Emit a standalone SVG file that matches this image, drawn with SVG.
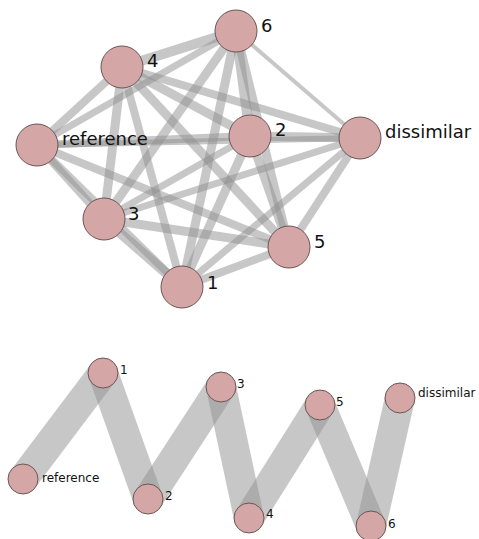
<svg xmlns="http://www.w3.org/2000/svg" width="479" height="539" viewBox="0 0 479 539">
<style>
.e line{stroke:#8f8f8f;stroke-opacity:0.5;stroke-linecap:butt}
.b line{stroke:#939393;stroke-opacity:0.52;stroke-width:30;stroke-linecap:butt}
.n{fill:#d4a6a6;stroke:#6b5555;stroke-width:1}
.t{font-family:"DejaVu Sans",sans-serif;font-size:18px;fill:#111}
.s{font-family:"DejaVu Sans",sans-serif;font-size:12px;fill:#111}
</style>
<rect width="479" height="539" fill="#fff"/>
<g id="edges-top" class="e">
<line x1="37" y1="145" x2="122" y2="67" stroke-width="8"/>
<line x1="37" y1="145" x2="236" y2="31" stroke-width="7"/>
<line x1="37" y1="145" x2="250" y2="136" stroke-width="8"/>
<line x1="37" y1="145" x2="360" y2="138" stroke-width="6"/>
<line x1="37" y1="145" x2="104" y2="219" stroke-width="8"/>
<line x1="37" y1="145" x2="182" y2="287" stroke-width="8"/>
<line x1="37" y1="145" x2="289" y2="247" stroke-width="8"/>
<line x1="122" y1="67" x2="236" y2="31" stroke-width="10"/>
<line x1="122" y1="67" x2="250" y2="136" stroke-width="9"/>
<line x1="122" y1="67" x2="360" y2="138" stroke-width="8"/>
<line x1="122" y1="67" x2="104" y2="219" stroke-width="9"/>
<line x1="122" y1="67" x2="182" y2="287" stroke-width="8"/>
<line x1="122" y1="67" x2="289" y2="247" stroke-width="9"/>
<line x1="236" y1="31" x2="250" y2="136" stroke-width="10"/>
<line x1="236" y1="31" x2="360" y2="138" stroke-width="4"/>
<line x1="236" y1="31" x2="104" y2="219" stroke-width="9"/>
<line x1="236" y1="31" x2="182" y2="287" stroke-width="9"/>
<line x1="236" y1="31" x2="289" y2="247" stroke-width="9"/>
<line x1="250" y1="136" x2="360" y2="138" stroke-width="9"/>
<line x1="250" y1="136" x2="104" y2="219" stroke-width="7"/>
<line x1="250" y1="136" x2="182" y2="287" stroke-width="9"/>
<line x1="250" y1="136" x2="289" y2="247" stroke-width="9"/>
<line x1="360" y1="138" x2="104" y2="219" stroke-width="7"/>
<line x1="360" y1="138" x2="182" y2="287" stroke-width="7"/>
<line x1="360" y1="138" x2="289" y2="247" stroke-width="8"/>
<line x1="104" y1="219" x2="182" y2="287" stroke-width="10"/>
<line x1="104" y1="219" x2="289" y2="247" stroke-width="9"/>
<line x1="182" y1="287" x2="289" y2="247" stroke-width="8"/>
</g>
<g id="t-reference"><circle class="n" cx="37" cy="145" r="21"/><text class="t" x="62" y="145">reference</text></g>
<g id="t-4"><circle class="n" cx="122" cy="67" r="21"/><text class="t" x="147" y="67">4</text></g>
<g id="t-6"><circle class="n" cx="236" cy="31" r="21"/><text class="t" x="261" y="32">6</text></g>
<g id="t-2"><circle class="n" cx="250" cy="136" r="21"/><text class="t" x="275" y="136">2</text></g>
<g id="t-dissimilar"><circle class="n" cx="360" cy="138" r="21"/><text class="t" x="385" y="138">dissimilar</text></g>
<g id="t-3"><circle class="n" cx="104" cy="219" r="21"/><text class="t" x="128" y="220">3</text></g>
<g id="t-5"><circle class="n" cx="289" cy="247" r="21"/><text class="t" x="314" y="248">5</text></g>
<g id="t-1"><circle class="n" cx="182" cy="287" r="21"/><text class="t" x="207" y="289">1</text></g>
<g id="edges-bottom" class="b">
<line x1="23" y1="479" x2="103" y2="373"/>
<line x1="103" y1="373" x2="148" y2="499"/>
<line x1="148" y1="499" x2="221" y2="387"/>
<line x1="221" y1="387" x2="249" y2="518"/>
<line x1="249" y1="518" x2="320" y2="405"/>
<line x1="320" y1="405" x2="371" y2="526"/>
<line x1="371" y1="526" x2="400" y2="398"/>
</g>
<g id="b-reference"><circle class="n" cx="23" cy="479" r="15"/><text class="s" x="42" y="482">reference</text></g>
<g id="b-1"><circle class="n" cx="103" cy="373" r="15"/><text class="s" x="120" y="374">1</text></g>
<g id="b-2"><circle class="n" cx="148" cy="499" r="15"/><text class="s" x="165" y="500">2</text></g>
<g id="b-3"><circle class="n" cx="221" cy="387" r="15"/><text class="s" x="237" y="388">3</text></g>
<g id="b-4"><circle class="n" cx="249" cy="518" r="15"/><text class="s" x="266" y="518">4</text></g>
<g id="b-5"><circle class="n" cx="320" cy="405" r="15"/><text class="s" x="336" y="406">5</text></g>
<g id="b-6"><circle class="n" cx="371" cy="526" r="15"/><text class="s" x="388" y="528">6</text></g>
<g id="b-dissimilar"><circle class="n" cx="400" cy="398" r="15"/><text class="s" x="418" y="397">dissimilar</text></g>
</svg>
